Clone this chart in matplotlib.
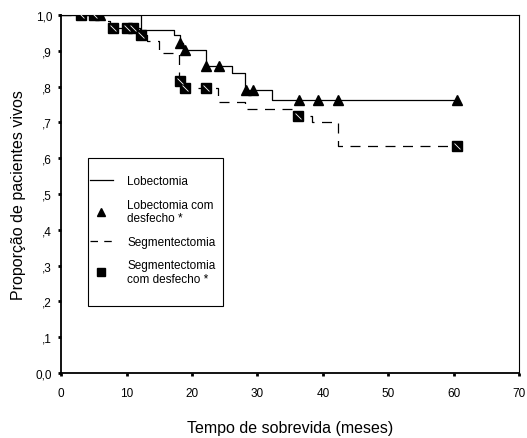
import matplotlib
matplotlib.use("Agg")
import matplotlib.pyplot as plt
from matplotlib.lines import Line2D
from matplotlib.patches import Rectangle

plt.rcParams['font.family'] = ['Liberation Sans', 'DejaVu Sans']

# Kaplan-Meier steps
lob_t = [0, 12.2, 17.2, 18.2, 18.6, 22.2, 26.1, 28.1, 32.2, 60]
lob_s = [1.0, 0.958, 0.943, 0.923, 0.902, 0.858, 0.837, 0.791, 0.763, 0.763]
seg_t = [0, 6.4, 7.4, 12.0, 13.2, 15.0, 18.0, 18.6, 24.0, 28.1, 36.0, 38.4, 42.3, 60]
seg_s = [1.0, 0.983, 0.965, 0.945, 0.928, 0.893, 0.817, 0.795, 0.757, 0.737,
         0.717, 0.700, 0.635, 0.635]

# censored / outcome markers
lob_ct = [6.0, 18.2, 19.0, 22.2, 24.2, 28.2, 29.3, 36.4, 39.3, 42.3, 60.5]
lob_cs = [1.0, 0.923, 0.902, 0.858, 0.858, 0.791, 0.791, 0.763, 0.763, 0.763, 0.763]
seg_ct = [3.0, 5.1, 7.9, 10.0, 11.0, 12.2, 18.2, 19.0, 22.1, 36.2, 60.5]
seg_cs = [1.0, 1.0, 0.965, 0.965, 0.965, 0.945, 0.817, 0.795, 0.795, 0.717, 0.635]

xticks = [0, 10, 20, 30, 40, 50, 60, 70]
yticks = [0.0, 0.1, 0.2, 0.3, 0.4, 0.5, 0.6, 0.7, 0.8, 0.9, 1.0]
ylabels = ['0,0', ',1', ',2', ',3', ',4', ',5', ',6', ',7', ',8', ',9', '1,0']

fig = plt.figure(figsize=(5.27, 4.39), dpi=100)
ax = fig.add_axes([0.116, 0.148, 0.869, 0.8155])

ax.step(lob_t, lob_s, where='post', color='black', lw=0.9)
ax.step(seg_t, seg_s, where='post', color='black', lw=0.9, dashes=(8, 6))

ax.plot(lob_ct, lob_cs, ls='none', marker='^', ms=7, color='black', zorder=3)
ax.plot(seg_ct, seg_cs, ls='none', marker='s', ms=6.5, color='black', zorder=3)
ax.plot(seg_ct, seg_cs, ls='none', marker=(2, 0, 45), ms=6, mec='white', mew=0.6, zorder=4)

ax.set_xlim(0, 70)
ax.set_ylim(0, 1.0)
ax.set_xticks(xticks)
ax.set_yticks(yticks)
ax.set_yticklabels(ylabels)
ax.tick_params(direction='out', length=2, width=2, labelsize=8.5)
ax.tick_params(axis='x', pad=8)
ax.tick_params(axis='y', pad=4.5)

for s in ['left', 'bottom']:
    ax.spines[s].set_linewidth(1.3)
for s in ['top', 'right']:
    ax.spines[s].set_linewidth(0.8)

ax.set_xlabel('Tempo de sobrevida (meses)', fontsize=11.5, labelpad=15)
ax.set_ylabel('Proporção de pacientes vivos', fontsize=11.5, labelpad=7)

handles = [
    Line2D([], [], color='black', lw=0.9),
    Line2D([], [], ls='none', marker='^', ms=6, color='black'),
    Line2D([], [], color='black', lw=0.9, dashes=(6, 5)),
    Line2D([], [], ls='none', marker='s', ms=5.5, color='black'),
]
labels = ['Lobectomia', 'Lobectomia com\ndesfecho *', 'Segmentectomia',
          'Segmentectomia\ncom desfecho *']
leg = ax.legend(handles, labels, loc='upper left', bbox_to_anchor=(0.062, 0.552),
                fontsize=8.5, frameon=False, labelspacing=0.95, handlelength=2.0,
                handletextpad=1.2, borderpad=0, borderaxespad=0)
ax.add_patch(Rectangle((0.059, 0.188), 0.295, 0.413, transform=ax.transAxes,
                       fill=False, ec='black', lw=0.8, zorder=5))

fig.savefig('out.png', dpi=100)
